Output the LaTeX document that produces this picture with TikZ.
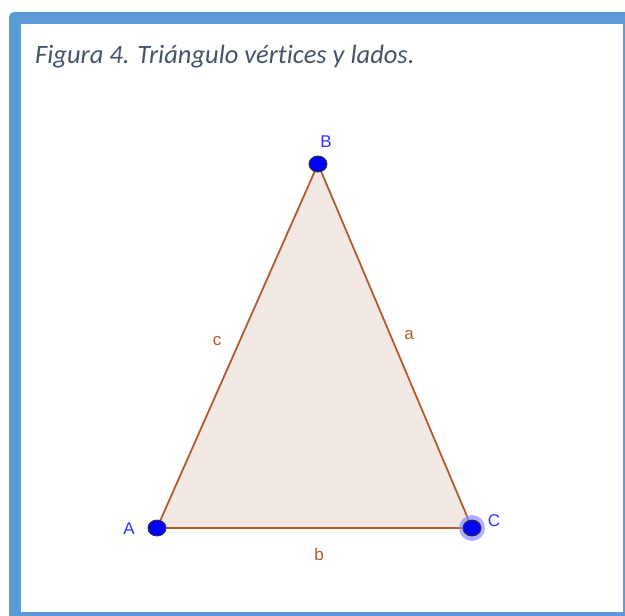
\documentclass[tikz,border=0pt]{standalone}
\usepackage{fontspec}
\setmainfont[Ligatures=NoCommon]{Carlito}
\newfontfamily\labfont{Liberation Sans}
\definecolor{frameblue}{RGB}{91,155,213}
\definecolor{titlecol}{RGB}{68,84,106}
\definecolor{trifill}{RGB}{243,233,228}
\definecolor{triedge}{RGB}{180,90,45}
\definecolor{ptblue}{RGB}{0,0,255}
\definecolor{lblblue}{RGB}{50,50,255}
\definecolor{halo}{RGB}{140,140,255}
\tikzset{
  pt/.style={ellipse, draw=black!80, fill=ptblue, line width=0.9pt, minimum width=18pt, minimum height=16pt, inner sep=0pt},
  vlabel/.style={text=lblblue, font=\labfont\fontsize{17}{17}\selectfont, inner sep=0pt},
  slabel/.style={text=triedge, font=\labfont\fontsize{17}{17}\selectfont, inner sep=0pt},
  side/.style={draw=triedge, line width=1.8pt},
}
\usetikzlibrary{shapes.geometric}
\begin{document}
\begin{tikzpicture}[x=1pt,y=-1pt]
\useasboundingbox (0,0) rectangle (625,616);
\fill[white] (0,0) rectangle (625,616);
% frame
\fill[frameblue, rounded corners=5pt] (9,12) rectangle (640,630);
\fill[white] (21,24) rectangle (623,612);
% title
\node[anchor=base west, inner sep=0pt, text=titlecol, font=\itshape\fontsize{26.5}{26.5}\selectfont] (title) at (35,63) {Figura 4. Triángulo vértices y lados.};
% triangle
\coordinate (pA) at (157,528);
\coordinate (pB) at (318,164);
\coordinate (pC) at (472,528);
\fill[trifill] (pA) -- (pB) -- (pC) -- cycle;
\draw[side] (pA) -- (pB);
\draw[side] (pB) -- (pC);
\draw[side] (pC) -- (pA);
\fill[halo, opacity=0.7] (pC) circle (13);
\node[pt] (A) at (pA) {};
\node[pt] (B) at (pB) {};
\node[pt] (C) at (pC) {};
\node[vlabel] (lA) at (129,529) {A};
\node[vlabel] (lB) at (326,142) {B};
\node[vlabel] (lC) at (494,521) {C};
\node[slabel] (la) at (409,335) {a};
\node[slabel] (lb) at (319,554) {b};
\node[slabel] (lc) at (217,341) {c};
\end{tikzpicture}
\end{document}
